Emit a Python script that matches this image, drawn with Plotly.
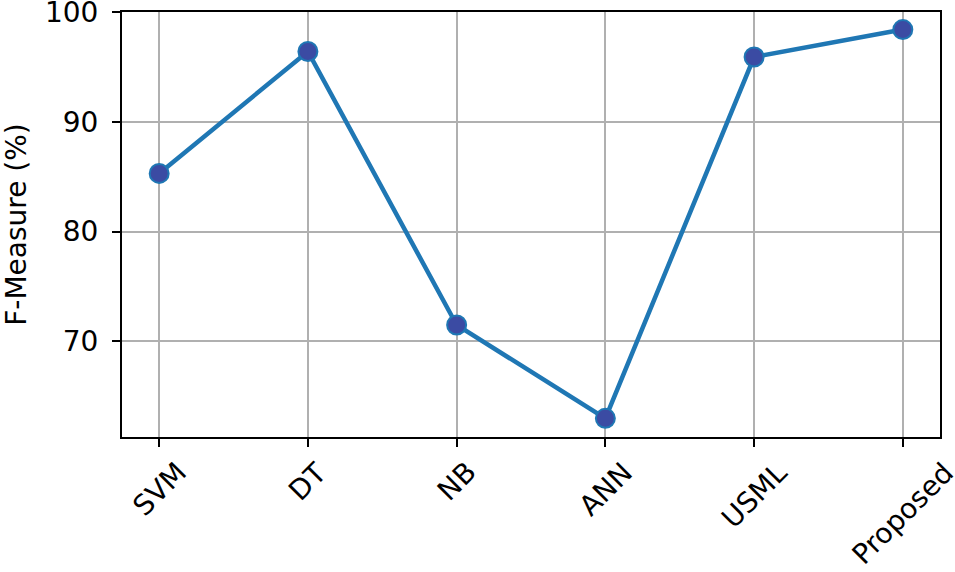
import plotly.graph_objects as go

# valeurs
methods = ["SVM", "DT", "NB", "ANN", "USML", "Proposed"]
f_measure = [85.3, 96.4, 71.5, 63.0, 95.9, 98.4]
y_ticks = [70, 80, 90, 100]

FONT = "DejaVu Sans"
SIZE = 28
BLUE = "#1f77b4"

fig = go.Figure()
fig.add_trace(go.Scatter(
    x=list(range(len(methods))), y=f_measure,
    mode="lines+markers",
    line=dict(color=BLUE, width=4.5),
    marker=dict(size=19, color="#3b4ba3", line=dict(color=BLUE, width=2)),
    showlegend=False,
))

# labels x tournes a 45 deg, centres sous le tick (comme matplotlib)
for i, m in enumerate(methods):
    fig.add_annotation(
        x=i, y=0, xref="x", yref="paper",
        text=m, textangle=-45, showarrow=False,
        xanchor="center", yanchor="top", yshift=-16,
        font=dict(family=FONT, size=SIZE, color="black"),
    )

fig.update_layout(
    width=955, height=572,
    margin=dict(l=122, r=15, t=12, b=135),
    plot_bgcolor="white", paper_bgcolor="white",
    font=dict(family=FONT, size=SIZE, color="black"),
)
fig.update_xaxes(
    automargin=False,
    range=[-0.25, len(methods) - 0.75],
    tickvals=list(range(len(methods))), showticklabels=False,
    ticks="outside", ticklen=8, tickwidth=2, tickcolor="black",
    showgrid=True, gridcolor="#b0b0b0", gridwidth=1.5,
    showline=True, linecolor="black", linewidth=2, mirror=True,
    zeroline=False,
)
fig.update_yaxes(
    automargin=False,
    range=[61.3, 100],
    tickvals=y_ticks, ticktext=[str(v) for v in y_ticks],
    tickfont=dict(family=FONT, size=SIZE),
    ticklabeloverflow="allow", ticklabelstandoff=8,
    ticks="outside", ticklen=8, tickwidth=2, tickcolor="black",
    showgrid=True, gridcolor="#b0b0b0", gridwidth=1.5,
    showline=True, linecolor="black", linewidth=2, mirror=True,
    zeroline=False,
    title=dict(text="F-Measure (%)", font=dict(family=FONT, size=SIZE), standoff=16),
)

# pas de marge sur le body pour que la figure soit en 0,0
fig.write_html("out.html", config={"displayModeBar": False},
               post_script="document.body.style.margin='0';")
